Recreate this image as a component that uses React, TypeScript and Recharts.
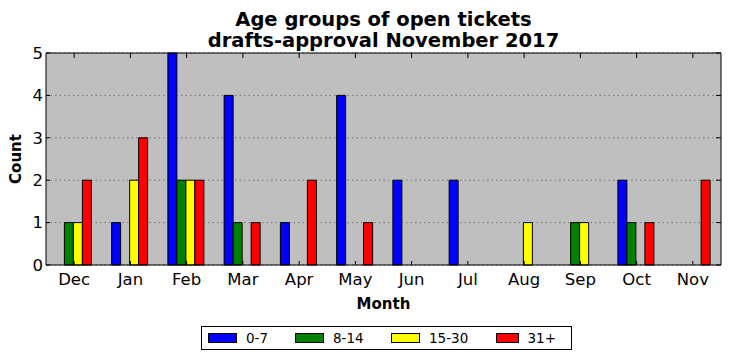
import React from 'react';
import { BarChart, Bar, XAxis, YAxis, CartesianGrid } from 'recharts';

const months = ['Dec', 'Jan', 'Feb', 'Mar', 'Apr', 'May', 'Jun', 'Jul', 'Aug', 'Sep', 'Oct', 'Nov'];
const age0to7 = [0, 1, 5, 4, 1, 4, 2, 2, 0, 0, 2, 0];
const age8to14 = [1, 0, 2, 1, 0, 0, 0, 0, 0, 1, 1, 0];
const age15to30 = [1, 2, 2, 0, 0, 0, 0, 0, 1, 1, 0, 0];
const age31plus = [2, 3, 2, 1, 2, 1, 0, 0, 0, 0, 1, 2];
const yTicks = [0, 1, 2, 3, 4, 5];

const series = [
  { key: 'a', name: '0-7', color: '#0000ff', values: age0to7 },
  { key: 'b', name: '8-14', color: '#008000', values: age8to14 },
  { key: 'c', name: '15-30', color: '#ffff00', values: age15to30 },
  { key: 'd', name: '31+', color: '#ff0000', values: age31plus },
];

const data = months.map((m, i) => {
  const row: Record<string, any> = { month: m };
  series.forEach((s) => {
    row[s.key] = s.values[i];
  });
  return row;
});

const FONT = '"DejaVu Sans", sans-serif';
const NoLabel = () => <g />;

export default function App() {
  return (
    <div style={{ position: 'absolute', left: 0, top: 0, width: 731, height: 361, background: '#fff', fontFamily: FONT }}>
      <div
        style={{
          position: 'absolute',
          left: 46,
          width: 675,
          top: 9,
          textAlign: 'center',
          fontSize: 19.5,
          fontWeight: 'bold',
          lineHeight: '21px',
          color: '#000',
        }}
      >
        <div>Age groups of open tickets</div>
        <div>drafts-approval November 2017</div>
      </div>
      <BarChart
        width={731}
        height={361}
        data={data}
        margin={{ top: 52, right: 9, bottom: 0, left: 0 }}
        barCategoryGap="16.67%"
        barGap={0}
        style={{ position: 'absolute', left: 0, top: 0 }}
      >
        <CartesianGrid
          vertical={false}
          fill="#bfbfbf"
          fillOpacity={1}
          stroke="#777"
          strokeDasharray="1.5 3"
          xAxisId="main"
          yAxisId="left"
        />
        <XAxis
          dataKey="month"
          xAxisId="main"
          height={96}
          tickSize={-4}
          tickMargin={12}
          axisLine={{ stroke: '#000' }}
          tickLine={{ stroke: '#000' }}
          tick={{ fill: '#000', fontSize: 16.5, fontFamily: FONT }}
          interval={0}
          label={{ value: 'Month', position: 'insideTop', offset: 33, fill: '#000', fontSize: 15, fontWeight: 'bold', fontFamily: FONT }}
        />
        <XAxis
          dataKey="month"
          xAxisId="top"
          orientation="top"
          height={1}
          tickSize={-5}
          tick={NoLabel}
          axisLine={{ stroke: '#000' }}
          tickLine={{ stroke: '#000' }}
          interval={0}
        />
        <YAxis
          yAxisId="left"
          width={46}
          domain={[0, 5]}
          ticks={yTicks}
          tickSize={-4}
          tickMargin={7}
          axisLine={{ stroke: '#000' }}
          tickLine={{ stroke: '#000' }}
          tick={{ fill: '#000', fontSize: 16.5, fontFamily: FONT }}
          label={{ value: 'Count', angle: -90, position: 'insideLeft', offset: 16, fill: '#000', fontSize: 15, fontWeight: 'bold', fontFamily: FONT, style: { textAnchor: 'middle' } }}
        />
        <YAxis
          yAxisId="right"
          orientation="right"
          width={1}
          domain={[0, 5]}
          ticks={yTicks}
          tickSize={-5}
          tick={NoLabel}
          axisLine={{ stroke: '#000' }}
          tickLine={{ stroke: '#000' }}
        />
        {series.map((s) => (
          <Bar
            key={s.key}
            dataKey={s.key}
            name={s.name}
            xAxisId="main"
            yAxisId="left"
            fill={s.color}
            stroke="#000"
            strokeWidth={1}
            isAnimationActive={false}
          />
        ))}
        <Bar
          dataKey="a"
          xAxisId="top"
          yAxisId="right"
          fill="none"
          fillOpacity={0}
          stroke="none"
          legendType="none"
          isAnimationActive={false}
        />
      </BarChart>
      <div
        style={{
          position: 'absolute',
          left: 201,
          top: 326,
          width: 363,
          height: 22,
          border: '1px solid #000',
          display: 'flex',
          alignItems: 'center',
          padding: '0 0 0 6px',
          background: '#fff',
          fontSize: 13.5,
          color: '#000',
        }}
      >
        {series.map((s, i) => (
          <div key={s.key} style={{ display: 'flex', alignItems: 'center', width: i === 0 ? 87 : i === 1 ? 96 : i === 2 ? 105 : 60 }}>
            <div style={{ width: 27, height: 8, background: s.color, border: '1px solid #000', marginRight: 9 }} />
            <span>{s.name}</span>
          </div>
        ))}
      </div>
    </div>
  );
}
